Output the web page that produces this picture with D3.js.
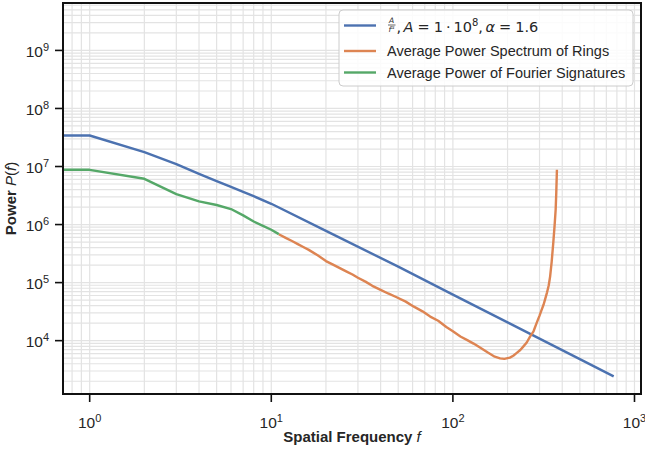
<!DOCTYPE html>
<html>
<head>
<meta charset="utf-8">
<script src="https://cdn.jsdelivr.net/npm/d3@7"></script>
<style>
  body { margin: 0; background: #fff; }
  svg { display: block; font-family: "Liberation Sans", Arial, sans-serif; }
</style>
</head>
<body>
<svg width="645" height="450"></svg>
<script>
// axis limits
const xLimits = [0.713, 1086];
const yLimits = [1205, 6.56e9];
const xTickValues = [1, 10, 100, 1000];
const yTickValues = [1e4, 1e5, 1e6, 1e7, 1e8, 1e9];

// A / f^alpha reference curve
const modelFreq = [0.1, 1, 2, 3, 4, 5, 6, 7, 8, 10, 20, 50, 100, 200, 500, 768];
const modelPower = [3.42e7, 3.42e7, 1.77e7, 1.10e7, 7.45e6, 5.6e6, 4.46e6, 3.66e6, 3.08e6, 2.28e6, 7.8e5, 1.88e5, 6.2e4, 2.07e4, 4.8e3, 2.42e3];

// average power spectrum of rings
const ringFreq = [11, 12, 13, 14, 15, 16, 18, 20, 22, 24, 26, 28, 30, 33, 36, 40, 44, 49, 55, 61, 68, 75, 83, 92, 100, 110, 120, 130, 141, 155, 170, 182, 192, 206, 215, 224, 235, 244, 255, 266, 278, 289, 300, 308, 316, 321, 330, 337, 343, 350, 357, 363, 368, 371, 374];
const ringPower = [6.8e5, 5.9e5, 5.2e5, 4.6e5, 4.1e5, 3.7e5, 2.95e5, 2.35e5, 2.02e5, 1.76e5, 1.55e5, 1.38e5, 1.21e5, 1.04e5, 8.8e4, 7.5e4, 6.5e4, 5.6e4, 4.7e4, 3.85e4, 3.2e4, 2.6e4, 2.2e4, 1.72e4, 1.45e4, 1.18e4, 1.02e4, 8.9e3, 7.6e3, 6.3e3, 5.3e3, 4.95e3, 4.85e3, 5.1e3, 5.5e3, 6.1e3, 6.9e3, 7.9e3, 9.3e3, 1.17e4, 1.45e4, 2.0e4, 2.7e4, 3.4e4, 4.2e4, 5.0e4, 6.8e4, 8.9e4, 1.27e5, 2.3e5, 4.8e5, 9.5e5, 1.8e6, 3.6e6, 8.8e6];

// average power of fourier signatures
const sigFreq = [0.1, 1, 2, 3, 4, 5, 6, 7, 8, 9, 10, 11];
const sigPower = [8.77e6, 8.77e6, 6.14e6, 3.34e6, 2.51e6, 2.17e6, 1.85e6, 1.44e6, 1.13e6, 9.5e5, 8.15e5, 6.84e5];

const legendLabels = ["Average Power Spectrum of Rings", "Average Power of Fourier Signatures"];
const colors = ["#4c72b0", "#dd8452", "#55a868"];

function plot_spectrum() {
    var pl = 63, pr = 641, pt = 3, pb = 394;

    var svg = d3.select("svg");

    var xScale = d3.scaleLog().domain(xLimits).range([pl, pr]);
    var yScale = d3.scaleLog().domain(yLimits).range([pb, pt]);

    // minor + major grid positions (1..9 times each decade) inside the limits
    function logGrid(lim) {
        var out = [];
        for (var e = Math.floor(Math.log10(lim[0])); e <= Math.ceil(Math.log10(lim[1])); e++) {
            for (var m = 1; m < 10; m++) {
                var v = m * Math.pow(10, e);
                if (v >= lim[0] && v <= lim[1]) out.push(v);
            }
        }
        return out;
    }

    var grid = svg.append("g").attr("stroke", "#e3e3e3").attr("stroke-width", 1.2);
    grid.selectAll("line.gx").data(logGrid(xLimits)).join("line").attr("class", "gx")
        .attr("x1", d => xScale(d)).attr("x2", d => xScale(d))
        .attr("y1", pt).attr("y2", pb);
    grid.selectAll("line.gy").data(logGrid(yLimits)).join("line").attr("class", "gy")
        .attr("y1", d => yScale(d)).attr("y2", d => yScale(d))
        .attr("x1", pl).attr("x2", pr);

    svg.append("clipPath").attr("id", "plotclip")
        .append("rect").attr("x", pl).attr("y", pt)
        .attr("width", pr - pl).attr("height", pb - pt);

    var line = d3.line()
        .x(d => xScale(d[0]))
        .y(d => yScale(d[1]));

    var series = [
        d3.zip(modelFreq, modelPower),
        d3.zip(ringFreq, ringPower),
        d3.zip(sigFreq, sigPower)
    ];

    var g = svg.append("g").attr("clip-path", "url(#plotclip)");
    series.forEach(function(s, i) {
        g.append("path")
            .datum(s)
            .attr("fill", "none")
            .attr("stroke", colors[i])
            .attr("stroke-width", 2.4)
            .attr("stroke-linejoin", "round")
            .attr("d", line);
    });

    // frame
    svg.append("rect")
        .attr("x", pl).attr("y", pt)
        .attr("width", pr - pl).attr("height", pb - pt)
        .attr("fill", "none").attr("stroke", "#111").attr("stroke-width", 2);

    // bottom axis
    var xAxis = svg.append("g").attr("transform", "translate(0," + pb + ")");
    xAxis.selectAll("line").data(xTickValues).join("line")
        .attr("x1", d => xScale(d)).attr("x2", d => xScale(d))
        .attr("y1", 0).attr("y2", 8)
        .attr("stroke", "#111").attr("stroke-width", 1.6);
    var xt = xAxis.selectAll("text").data(xTickValues).join("text")
        .attr("x", d => xScale(d)).attr("y", 34)
        .attr("text-anchor", "middle")
        .attr("font-size", 15.5).attr("fill", "#262626");
    xt.append("tspan").text("10");
    xt.append("tspan").attr("dy", -6).attr("font-size", 11).text(d => Math.round(Math.log10(d)));

    // left axis
    var yAxis = svg.append("g").attr("transform", "translate(" + pl + ",0)");
    yAxis.selectAll("line").data(yTickValues).join("line")
        .attr("y1", d => yScale(d)).attr("y2", d => yScale(d))
        .attr("x1", 0).attr("x2", -8)
        .attr("stroke", "#111").attr("stroke-width", 1.6);
    var yt = yAxis.selectAll("text").data(yTickValues).join("text")
        .attr("x", -14).attr("y", d => yScale(d) + 6.5)
        .attr("text-anchor", "end")
        .attr("font-size", 15.5).attr("fill", "#262626");
    yt.append("tspan").text("10");
    yt.append("tspan").attr("dy", -6).attr("font-size", 11).text(d => Math.round(Math.log10(d)));

    // axis titles
    var xl = svg.append("text")
        .attr("x", (pl + pr) / 2).attr("y", 442)
        .attr("text-anchor", "middle")
        .attr("font-size", 15).attr("fill", "#262626");
    xl.append("tspan").attr("font-weight", "bold").text("Spatial Frequency ");
    xl.append("tspan").attr("font-style", "italic").text("f");

    var yl = svg.append("text")
        .attr("transform", "translate(16," + (pt + pb) / 2 + ") rotate(-90)")
        .attr("text-anchor", "middle")
        .attr("font-size", 15).attr("fill", "#262626");
    yl.append("tspan").attr("font-weight", "bold").text("Power ");
    yl.append("tspan").attr("font-style", "italic").text("P");
    yl.append("tspan").text("(");
    yl.append("tspan").attr("font-style", "italic").text("f");
    yl.append("tspan").text(")");

    // legend
    var lg = svg.append("g").attr("transform", "translate(339,10)");
    lg.append("rect")
        .attr("width", 294).attr("height", 76).attr("rx", 4)
        .attr("fill", "#fff").attr("fill-opacity", 0.85)
        .attr("stroke", "#cccccc").attr("stroke-width", 1);

    var rowY = [15.5, 41, 62.5];
    rowY.forEach(function(ry, i) {
        lg.append("line")
            .attr("x1", 5).attr("x2", 37).attr("y1", ry).attr("y2", ry)
            .attr("stroke", colors[i]).attr("stroke-width", 2.4);
    });
    legendLabels.forEach(function(t, i) {
        lg.append("text")
            .attr("x", 48).attr("y", rowY[i + 1] + 5)
            .attr("font-size", 14.5).attr("fill", "#262626")
            .text(t);
    });

    // first label: A / f^alpha, A = 1 . 10^8, alpha = 1.6 (math font)
    var mf = "DejaVu Sans, sans-serif";
    lg.append("text").attr("x", 52.5).attr("y", 13).attr("text-anchor", "middle")
        .attr("font-family", mf)
        .attr("font-size", 7.5).attr("font-style", "italic").attr("fill", "#262626").text("A");
    lg.append("line").attr("x1", 49).attr("x2", 56.5).attr("y1", 15).attr("y2", 15)
        .attr("stroke", "#262626").attr("stroke-width", 0.7);
    var fa = lg.append("text").attr("x", 52.5).attr("y", 22).attr("text-anchor", "middle")
        .attr("font-family", mf)
        .attr("font-size", 7.5).attr("font-style", "italic").attr("fill", "#262626");
    fa.append("tspan").text("f");
    fa.append("tspan").attr("dy", -3).attr("font-size", 5).text("α");

    var l1 = lg.append("text").attr("x", 57.5).attr("y", 21.5)
        .attr("font-family", mf)
        .attr("font-size", 14.5).attr("fill", "#262626");
    l1.append("tspan").text(",");
    l1.append("tspan").attr("dx", 2.5).attr("font-style", "italic").text("A");
    l1.append("tspan").attr("dx", 4).text("=");
    l1.append("tspan").attr("dx", 4).text("1");
    l1.append("tspan").attr("dx", 3).text("·");
    l1.append("tspan").attr("dx", 3).text("10");
    l1.append("tspan").attr("dy", -6).attr("font-size", 10).text("8");
    l1.append("tspan").attr("dy", 6).text(",");
    l1.append("tspan").attr("dx", 2.5).attr("font-style", "italic").text("α");
    l1.append("tspan").attr("dx", 4).text("=");
    l1.append("tspan").attr("dx", 4).text("1.6");
}

plot_spectrum();
</script>
</body>
</html>
